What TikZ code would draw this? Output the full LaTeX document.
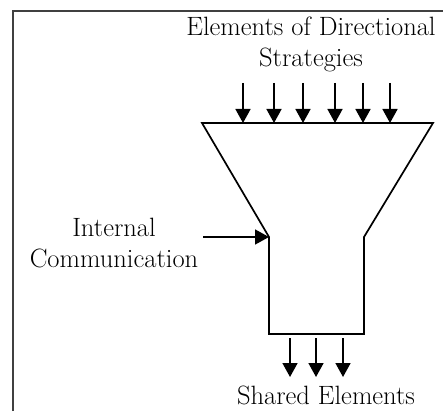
\documentclass[tikz,border=0pt]{standalone}
\usepackage{fontspec}
\usetikzlibrary{arrows.meta,positioning}

\tikzset{
	flow/.style={-{Triangle[length=14pt,width=15pt]}, line width=1.6pt},
	lbl/.style={font=\fontsize{26.5}{31}\selectfont, align=center, inner sep=0pt},
}

\begin{document}
\begin{tikzpicture}[x=1pt,y=-1pt]
	\useasboundingbox (0,0) rectangle (443,411);
	\draw[line width=1.5pt,black!75] (13,411) -- (13,11) -- (443,11);

	% funnel corners
	\coordinate (tl) at (202,123);
	\coordinate (tr) at (433,123);
	\coordinate (nl) at (269,237);
	\coordinate (nr) at (364,237);
	\coordinate (bl) at (269,334);
	\coordinate (br) at (364,334);
	\draw[line width=1.7pt] (tl) -- (tr) -- (nr) -- (br) -- (bl) -- (nl) -- cycle;

	\node[lbl](strat) at (311,44){Elements of Directional\\Strategies};
	\node[lbl](comm) at (114,243){Internal\\Communication};
	\node[lbl,anchor=south](shared) at (326,405){Shared Elements};

	\foreach \x [count=\i] in {243,274,303,335,363,390}
		\draw[flow] (\x,83) coordinate (in\i) -- (in\i |- tl);
	\coordinate (cin) at (203,237);
	\draw[flow] (cin) -- (nl);
	\foreach \x [count=\i] in {290,316,343}
		\draw[flow] (\x,338) coordinate (out\i) -- (\x,377);
\end{tikzpicture}
\end{document}
